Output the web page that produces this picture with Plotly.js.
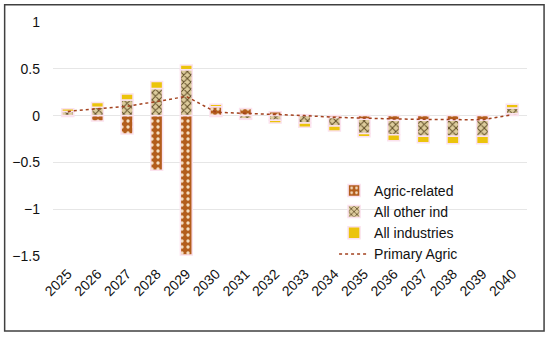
<!DOCTYPE html>
<html>
<head>
<meta charset="utf-8">
<script src="https://cdn.plot.ly/plotly-3.0.1.min.js"></script>
<style>
html,body{margin:0;padding:0;background:#fff;}
#chart{width:550px;height:337px;}
</style>
</head>
<body>
<div id="chart"></div>
<script>
// Data
var years = ["2025","2026","2027","2028","2029","2030","2031","2032","2033","2034","2035","2036","2037","2038","2039","2040"];
var agricRelated = [-0.01, -0.057, -0.196, -0.585, -1.49, 0.095, 0.075, 0.04, 0.01, -0.02, -0.04, -0.05, -0.05, -0.05, -0.05, 0.02];
var allOtherInd = [0.043, 0.09, 0.168, 0.29, 0.49, -0.01, -0.035, -0.05, -0.08, -0.09, -0.15, -0.155, -0.17, -0.17, -0.17, 0.06];
var allIndustries = [0.03, 0.05, 0.064, 0.075, 0.05, 0.027, -0.005, -0.03, -0.045, -0.055, -0.035, -0.065, -0.07, -0.08, -0.08, 0.04];
var primaryAgric = [0.045, 0.07, 0.10, 0.15, 0.205, 0.036, 0.025, 0.015, 0.0, -0.018, -0.028, -0.036, -0.04, -0.043, -0.045, 0.01];
var seriesNames = ["Agric-related", "All other ind", "All industries", "Primary Agric"];
var yTicks = [-1.5, -1, -0.5, 0, 0.5, 1];

var halo = {color: "#fbe2ee", width: 1.5};
var traces = [
  {type: "bar", name: seriesNames[0], x: years, y: agricRelated,
   marker: {color: "#b9611f", line: halo,
            pattern: {shape: ".", fgcolor: "#f3dcc0", bgcolor: "#b35d1c", size: 6, solidity: 0.25}}},
  {type: "bar", name: seriesNames[1], x: years, y: allOtherInd,
   marker: {color: "#dccb9c", line: halo,
            pattern: {shape: "x", fgcolor: "#5e4b26", bgcolor: "#dccb9c", size: 5, solidity: 0.35}}},
  {type: "bar", name: seriesNames[2], x: years, y: allIndustries,
   marker: {color: "#ebc40c", line: halo}},
  {type: "scatter", mode: "lines", name: seriesNames[3], x: years, y: primaryAgric,
   line: {color: "#a3421f", width: 1.5, dash: "dot"}}
];

var font = {family: "Liberation Sans, Arial, sans-serif", size: 14, color: "#111111"};
var layout = {
  width: 550, height: 337,
  margin: {l: 53, r: 23, t: 22, b: 81},
  paper_bgcolor: "#ffffff", plot_bgcolor: "#ffffff",
  font: font,
  barmode: "relative",
  bargap: 0.6,
  showlegend: true,
  legend: {x: 0.593, xanchor: "left", y: 0.347, yanchor: "top",
           bgcolor: "rgba(0,0,0,0)", font: font, tracegroupgap: 0},
  xaxis: {type: "category", tickangle: -45, showgrid: false, zeroline: false,
          showline: false, ticks: "", ticklabelstandoff: 6, tickfont: font},
  yaxis: {range: [-1.5, 1], tickvals: yTicks, showgrid: true, gridcolor: "#e6e6e6",
          gridwidth: 1, zeroline: true, zerolinecolor: "#e6e6e6", zerolinewidth: 1,
          showline: false, ticks: "", ticklabelstandoff: 12, tickfont: font},
  shapes: [{type: "rect", xref: "paper", yref: "paper",
            x0: -0.102, x1: 1.036, y0: -0.32, y1: 1.074,
            line: {color: "#404040", width: 1.5}, fillcolor: "rgba(0,0,0,0)", layer: "above"}]
};

Plotly.newPlot("chart", traces, layout, {displayModeBar: false, staticPlot: true});
</script>
</body>
</html>
